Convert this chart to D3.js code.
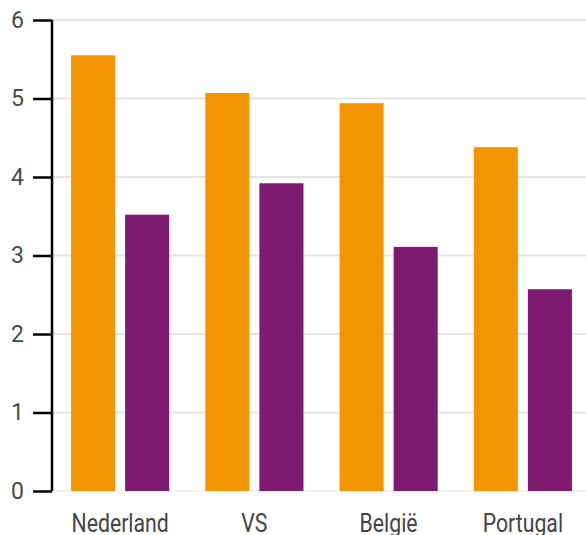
<!DOCTYPE html>
<html>
<head>
<meta charset="utf-8">
<script src="https://cdn.jsdelivr.net/npm/d3@7"></script>
<style>
  body { margin: 0; background: #fff; }
  svg { display: block; }
</style>
</head>
<body>
<div id="chart"></div>
<script>
// data
const countries = ["Nederland", "VS", "België", "Portugal"];
const serieA = [5.55, 5.07, 4.94, 4.38]; // oranje
const serieB = [3.52, 3.92, 3.11, 2.57]; // paars
const yTicks = [0, 1, 2, 3, 4, 5, 6];
const colors = ["#f39500", "#7e1a70"];

const width = 586, height = 535;
const margin = {top: 20, right: 0, bottom: 44, left: 52};

const rows = countries.map((c, i) => ({name: c, values: [serieA[i], serieB[i]]}));

const svg = d3.select("#chart").append("svg")
    .attr("width", width).attr("height", height);

const x0 = d3.scaleBand()
    .domain(countries)
    .range([margin.left, 591])
    .paddingInner(0.269)
    .paddingOuter(0.142);

const x1 = d3.scaleBand()
    .domain([0, 1])
    .range([0, x0.bandwidth()])
    .paddingInner(0.185);

const y = d3.scaleLinear()
    .domain([0, 6])
    .range([height - margin.bottom, margin.top]);

// rasterlijnen
svg.append("g")
    .selectAll("line")
    .data(yTicks)
    .enter().append("line")
    .attr("x1", margin.left).attr("x2", width)
    .attr("y1", d => y(d)).attr("y2", d => y(d))
    .attr("stroke", d => d === 0 ? "#f2f2f2" : "#e5e5e5")
    .attr("stroke-width", 2);

// staven
const groups = svg.append("g")
    .selectAll("g")
    .data(rows)
    .enter().append("g")
    .attr("transform", d => `translate(${x0(d.name)},0)`);

groups.selectAll("rect")
    .data(d => d.values)
    .enter().append("rect")
    .attr("x", (d, i) => x1(i))
    .attr("width", x1.bandwidth())
    .attr("y", d => y(d))
    .attr("height", d => y(0) - y(d))
    .attr("fill", (d, i) => colors[i]);

// y-as
const yAxis = svg.append("g")
    .attr("transform", `translate(${margin.left},0)`)
    .call(d3.axisLeft(y).tickValues(yTicks).tickSize(19).tickPadding(9).tickFormat(d3.format("d")));

yAxis.select(".domain")
    .attr("d", `M0,${y(6)}V${y(0)}`)
    .attr("stroke", "#000").attr("stroke-width", 2.5);
yAxis.selectAll(".tick line").attr("stroke", "#000").attr("stroke-width", 2.5);
yAxis.selectAll(".tick text")
    .style("font-family", "Roboto, sans-serif")
    .style("font-size", "23px")
    .attr("fill", "#4a4a4a");

// landnamen
svg.append("g")
    .selectAll("text")
    .data(countries)
    .enter().append("text")
    .attr("transform", d => `translate(${x0(d) + x0.bandwidth() / 2},532) scale(0.85,1)`)
    .attr("text-anchor", "middle")
    .style("font-family", "Roboto, sans-serif")
    .style("font-size", "25px")
    .attr("fill", "#444")
    .text(d => d);
</script>
</body>
</html>
